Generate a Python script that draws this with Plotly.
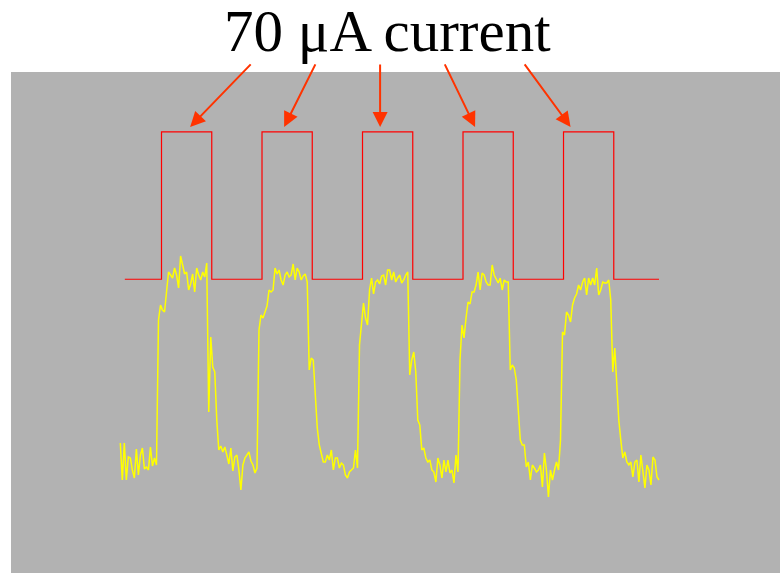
import numpy as np
import plotly.graph_objects as go

# ---- data ----
title_text = "70 \u03bcA current"

# stimulation current (uA), step changes at these times (s)
current_time = [-7.3, 0, 10, 20, 30, 40, 50, 60, 70, 80, 90, 99.0]
current_uA = [0, 70, 0, 70, 0, 70, 0, 70, 0, 70, 0, 0]

# times (s) of the pulses the arrows point at
arrow_time = [5.7, 24.4, 43.5, 62.4, 81.4]

# recorded response (a.u.), sampled every 0.4 s from -8.2 s to 99.0 s
signal_au = [
    57, 20, 57, 20, 43, 42, 30, 22, 51, 25, 45, 52, 31, 33, 30, 53, 34, 42, 35,
    180, 195, 190, 188, 205, 228, 225, 222, 232, 225, 212, 244, 235, 226, 228,
    210, 216, 226, 208, 232, 225, 220, 228, 223, 237,
    88, 163, 133, 128, 80, 50, 54, 48, 53, 45, 36, 52, 29, 43, 45, 30, 10, 35,
    42, 45, 48, 39, 35, 27, 32,
    170, 185, 182, 188, 194, 210, 208, 210, 232, 226, 230, 220, 215, 225, 228,
    223, 225, 236, 220, 232, 228, 220, 224, 226, 218,
    130, 142, 140, 102, 72, 55, 45, 38, 38, 45, 40, 50, 30, 42, 42, 32, 37, 35,
    25, 22, 28, 30, 32, 50, 32,
    155, 177, 197, 182, 175, 210, 222, 206, 218, 220, 216, 224, 225, 215, 230,
    230, 220, 228, 218, 222, 225, 217, 220, 225, 228,
    125, 140, 148, 128, 80, 75, 50, 52, 42, 38, 40, 30, 28, 18, 42, 35, 22, 40,
    28, 40, 27, 30, 17, 45, 28,
    140, 175, 162, 182, 198, 196, 208, 208, 215, 228, 210, 227, 225, 218, 215,
    215, 235, 225, 220, 217, 222, 210, 220, 218, 218,
    130, 135, 132, 120, 85, 60, 55, 55, 33, 38, 20, 35, 32, 28, 30, 35, 13, 47,
    30, 3, 30, 20, 30, 38, 30, 60,
    168, 165, 188, 185, 178, 195, 202, 206, 215, 210, 218, 222, 205, 222, 215,
    222, 215, 232, 205, 210, 218, 217, 217, 220, 200,
    128, 152, 118, 80, 60, 42, 48, 38, 35, 38, 23, 38, 40, 18, 45, 30, 12, 35,
    30, 15, 43, 40, 23, 20,
]
signal_time = np.linspace(-8.2, 99.0, len(signal_au))

# ---- figure ----
fig = go.Figure()

fig.add_trace(go.Scatter(
    x=signal_time, y=signal_au, mode="lines",
    line=dict(color="#ffff00", width=1.5),
    xaxis="x", yaxis="y", hoverinfo="skip", showlegend=False,
))

fig.add_trace(go.Scatter(
    x=current_time, y=current_uA, mode="lines",
    line=dict(color="#ff0000", width=1.2, shape="hv"),
    xaxis="x", yaxis="y2", hoverinfo="skip", showlegend=False,
))

arrow_offsets = [(62, -64), (32, -64), (0, -64), (-31, -64), (-47, -64)]
annotations = []
for t, (dx, dy) in zip(arrow_time, arrow_offsets):
    annotations.append(dict(
        x=t, y=72.4, xref="x", yref="y2",
        ax=dx, ay=dy, axref="pixel", ayref="pixel",
        text="", showarrow=True, arrowhead=2, arrowsize=1.5,
        arrowwidth=2, arrowcolor="#ff3300", standoff=0,
    ))

annotations.append(dict(
    x=0.4902, y=1.082, xref="paper", yref="paper",
    xanchor="center", yanchor="middle",
    text=title_text, showarrow=False,
    font=dict(family="Liberation Serif, Times New Roman, serif", size=59, color="#000000"),
))

axis_off = dict(visible=False, showgrid=False, zeroline=False, fixedrange=True)

fig.update_layout(
    width=780, height=573,
    margin=dict(l=11, r=0, t=72, b=0, pad=0),
    paper_bgcolor="#ffffff",
    plot_bgcolor="#b2b2b2",
    xaxis=dict(range=[-29.95, 123.08], **axis_off),
    yaxis=dict(range=[-73, 428], **axis_off),
    yaxis2=dict(range=[-139.6, 98.5], overlaying="y", **axis_off),
    annotations=annotations,
    showlegend=False,
)

fig.write_html(
    "out.html",
    config={"displayModeBar": False},
    post_script="document.body.style.margin='0';document.body.style.overflow='hidden';",
)
